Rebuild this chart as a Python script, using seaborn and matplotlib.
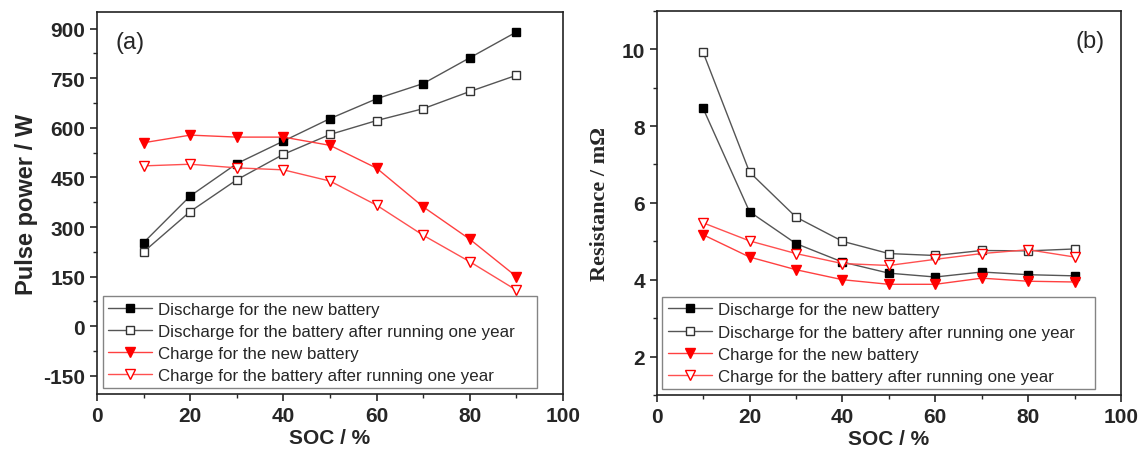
import numpy as np
import pandas as pd
import matplotlib
matplotlib.use("Agg")
import matplotlib.pyplot as plt
from matplotlib.ticker import MultipleLocator
import seaborn as sns

# Dados
soc = [10, 20, 30, 40, 50, 60, 70, 80, 90]

power_dis_new = [253, 394, 492, 560, 628, 688, 734, 812, 890]
power_dis_old = [225, 347, 443, 520, 580, 622, 658, 710, 759]
power_chg_new = [555, 578, 572, 572, 547, 478, 361, 263, 150]
power_chg_old = [485, 490, 479, 473, 439, 366, 275, 195, 109]

res_dis_new = [8.46, 5.77, 4.94, 4.46, 4.17, 4.07, 4.20, 4.13, 4.10]
res_dis_old = [9.92, 6.80, 5.63, 5.00, 4.68, 4.63, 4.76, 4.75, 4.80]
res_chg_new = [5.17, 4.59, 4.26, 4.00, 3.88, 3.88, 4.04, 3.96, 3.94]
res_chg_old = [5.48, 5.01, 4.68, 4.42, 4.37, 4.53, 4.68, 4.78, 4.59]

series_labels = [
    "Discharge for the new battery",
    "Discharge for the battery after running one year",
    "Charge for the new battery",
    "Charge for the battery after running one year",
]

sns.set_style("ticks")
plt.rcParams["font.family"] = ["Liberation Sans", "DejaVu Sans"]
plt.rcParams["axes.unicode_minus"] = False

# estilo de cada série: (cor da linha, marcador, preenchimento, borda, tamanho)
estilos = [
    ("#555555", "s", "black", "black", 5.5),
    ("#555555", "s", "white", "#333333", 5.5),
    ("#ff4040", "v", "red", "red", 7),
    ("#ff5050", "v", "white", "red", 7),
]


def desenhar(ax, valores):
    for lab, vals, (cor, mk, mfc, mec, ms) in zip(series_labels, valores, estilos):
        df = pd.DataFrame({"SOC": soc, "VAL": vals})
        sns.lineplot(
            data=df, x="SOC", y="VAL", ax=ax, color=cor, linewidth=1.0,
            marker=mk, markersize=ms, markerfacecolor=mfc,
            markeredgecolor=mec, markeredgewidth=1.0, label=lab,
        )
    ax.set_xlim(0, 100)
    ax.xaxis.set_major_locator(MultipleLocator(20))
    ax.xaxis.set_minor_locator(MultipleLocator(10))
    ax.set_xlabel("SOC / %", fontsize=15, fontweight="bold", labelpad=2)
    ax.tick_params(which="major", direction="out", length=5, width=1.2,
                   labelsize=15)
    ax.tick_params(which="minor", direction="out", length=3, width=1.0)
    for t in ax.get_xticklabels() + ax.get_yticklabels():
        t.set_fontweight("bold")
    for s in ax.spines.values():
        s.set_linewidth(1.2)
        s.set_color("#222222")
    leg = ax.legend(loc="lower left", bbox_to_anchor=(0.012, 0.015, 0.933, 0.25),
                    mode="expand", fontsize=12.2, frameon=True, fancybox=False,
                    handlelength=2.6, handletextpad=0.35, labelspacing=0.42,
                    borderpad=0.32, borderaxespad=0.0)
    leg.get_frame().set_edgecolor("#666666")
    leg.get_frame().set_linewidth(1.0)


fig = plt.figure(figsize=(11.48, 4.52), dpi=100)
ax1 = fig.add_axes([0.0845, 0.126, 0.406, 0.845])
ax2 = fig.add_axes([0.572, 0.124, 0.4045, 0.85])

desenhar(ax1, [power_dis_new, power_dis_old, power_chg_new, power_chg_old])
ax1.set_ylim(-205, 950)
ax1.yaxis.set_major_locator(MultipleLocator(150))
ax1.yaxis.set_minor_locator(MultipleLocator(75))
ax1.set_ylabel("Pulse power / W", fontsize=17, fontweight="bold", labelpad=4)
ax1.text(0.04, 0.95, "(a)", transform=ax1.transAxes, fontsize=17,
         va="top", ha="left")

desenhar(ax2, [res_dis_new, res_dis_old, res_chg_new, res_chg_old])
ax2.set_ylim(1, 11)
ax2.yaxis.set_major_locator(MultipleLocator(2))
ax2.yaxis.set_minor_locator(MultipleLocator(1))
ax2.set_ylabel("Resistance / m\u03a9", fontsize=16, fontweight="bold",
               family=["Liberation Serif", "DejaVu Serif"], labelpad=8)
ax2.text(0.965, 0.95, "(b)", transform=ax2.transAxes, fontsize=17,
         va="top", ha="right")

plt.savefig("out.png", dpi=100)
